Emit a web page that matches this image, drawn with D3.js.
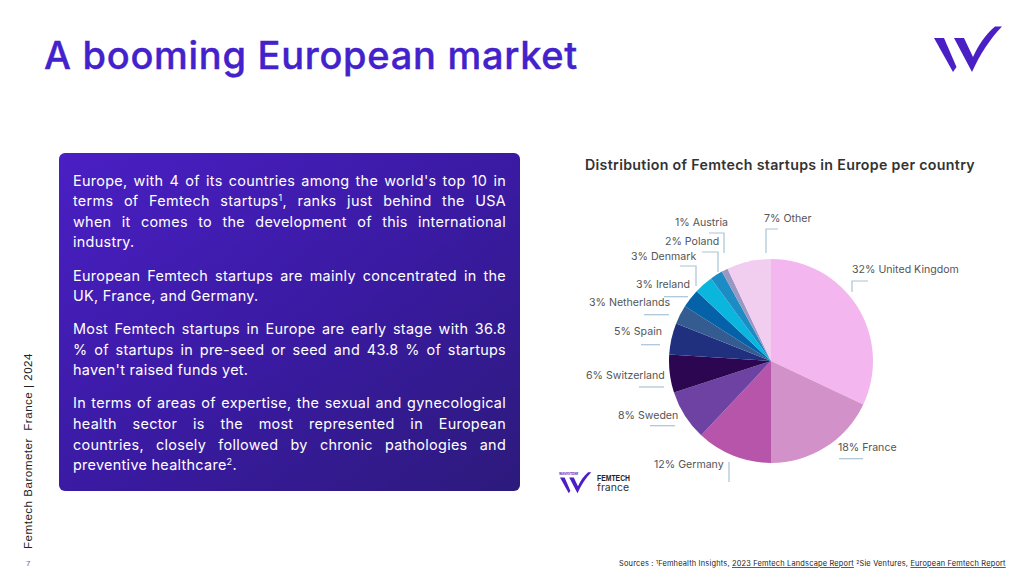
<!DOCTYPE html>
<html>
<head>
<meta charset="utf-8">
<script src="https://cdn.jsdelivr.net/npm/d3@7"></script>
<style>
    html, body { margin: 0; padding: 0; background: #fff; }
    svg { display: block; font-family: Inter, sans-serif; }
</style>
</head>
<body>
<svg id="chart" width="1024" height="576"></svg>
<script>
const countries = ['United Kingdom', 'France', 'Germany', 'Sweden', 'Switzerland', 'Spain', 'Netherlands', 'Ireland', 'Denmark', 'Poland', 'Austria', 'Other'];
const shares = [32, 18, 12, 8, 6, 5, 3, 3, 3, 2, 1, 7];
const sliceColors = ['#f3b6ee', '#d291c9', '#b755ab', '#6e42a3', '#2c0650', '#20307e', '#345c91', '#0561a8', '#0ab5de', '#1b8cc4', '#9a97c2', '#f1cdf0'];

// label x is the left edge, leader is the thin blue line next to each label
const labelLayout = [
    { x: 852, y: 269, leader: [[852, 292], [852, 281], [868, 281]] },
    { x: 838, y: 447, leader: [[839, 458.7], [863, 458.7]] },
    { x: 654, y: 464, leader: [[729, 462], [729, 482]] },
    { x: 618, y: 415, leader: [[650, 425.7], [675, 425.7]] },
    { x: 586, y: 375, leader: [[639, 387], [664, 387]] },
    { x: 614, y: 331, leader: [[641, 344.7], [660, 344.7]] },
    { x: 589, y: 302, leader: [[644, 314.7], [669, 314.7]] },
    { x: 636, y: 284, leader: [[664, 296.7], [688, 296.7]] },
    { x: 631, y: 256, leader: [[680, 266], [696, 266], [696, 286]] },
    { x: 665, y: 241, leader: [[702, 252], [718, 252], [718, 272]] },
    { x: 675, y: 222, leader: [[709, 233], [724, 233], [724, 253]] },
    { x: 764, y: 218, leader: [[766, 253], [766, 229], [778, 229]] }
];

const paragraphs = [
    [
        { text: "Europe, with 4 of its countries among the world's top 10 in", y: 181 },
        { text: 'terms of Femtech startups|1|, ranks just behind the USA', y: 201 },
        { text: 'when it comes to the development of this international', y: 222 },
        { text: 'industry.', y: 242, last: true }
    ],
    [
        { text: 'European Femtech startups are mainly concentrated in the', y: 276 },
        { text: 'UK, France, and Germany.', y: 296, last: true }
    ],
    [
        { text: 'Most Femtech startups in Europe are early stage with 36.8', y: 329 },
        { text: '% of startups in pre-seed or seed and 43.8 % of startups', y: 350 },
        { text: "haven't raised funds yet.", y: 370, last: true }
    ],
    [
        { text: 'In terms of areas of expertise, the sexual and gynecological', y: 403 },
        { text: 'health sector is the most represented in European', y: 424 },
        { text: 'countries, closely followed by chronic pathologies and', y: 445 },
        { text: 'preventive healthcare|2|.', y: 465, last: true }
    ]
];

const svg = d3.select('#chart');

// spreads the letters of a text until it is as wide as the reference
const fitWidth = (t, width, chars) => {
    const extra = (width - t.node().getComputedTextLength()) / chars;
    t.attr('letter-spacing', extra);
};

const defs = svg.append('defs');
const boxGradient = defs.append('linearGradient')
    .attr('id', 'box-gradient')
    .attr('x1', '0%').attr('y1', '0%')
    .attr('x2', '100%').attr('y2', '100%');
boxGradient.append('stop').attr('offset', '0%').attr('stop-color', '#4a1fc4');
boxGradient.append('stop').attr('offset', '55%').attr('stop-color', '#391aa0');
boxGradient.append('stop').attr('offset', '100%').attr('stop-color', '#2d1a7c');

// title
const title = svg.append('text')
    .attr('x', 44)
    .attr('y', 69)
    .attr('font-size', 38)
    .attr('font-weight', 500)
    .attr('stroke', '#4322cc')
    .attr('stroke-width', 0.4)
    .attr('fill', '#4322cc')
    .text('A booming European market');
fitWidth(title, 534, 25);

// logo, top right
const logoLeft = 'M0 12 L10 12 L22.5 41 L19 46 Z';
const logoRight = 'M20 12 L30 12 L39 31 C44 20 51 9 61 0.5 L68 0.5 C56 13 46 28 38 46 Z';
const drawLogo = (x, y, k) => {
    const logo = svg.append('g').attr('transform', `translate(${x},${y}) scale(${k})`).attr('fill', '#4a1fc4');
    logo.append('path').attr('d', logoLeft);
    logo.append('path').attr('d', logoRight);
};
drawLogo(934, 26, 1);

// text box
svg.append('rect')
    .attr('x', 59).attr('y', 153)
    .attr('width', 461).attr('height', 338)
    .attr('rx', 6)
    .attr('fill', 'url(#box-gradient)');

const boxLeft = 73;
const boxRight = 506;
const bodyFont = 14.4;

paragraphs.flat().forEach(line => {
    const t = svg.append('text')
        .attr('x', boxLeft)
        .attr('y', line.y + 5)
        .attr('font-size', bodyFont)
        .attr('letter-spacing', 0.3)
        .attr('fill', '#fff');
    line.text.split('|').forEach((part, i) => {
        const span = t.append('tspan').text(part);
        if (i === 1) {
            span.attr('font-size', 9).attr('dy', -5);
        } else if (i === 2) {
            span.attr('dy', 5);
        }
    });
    // justify the line by hand, the last line of a paragraph stays ragged
    if (!line.last) {
        const gaps = line.text.split(' ').length - 1;
        const extra = (boxRight - boxLeft - t.node().getComputedTextLength()) / gaps;
        t.attr('word-spacing', extra);
    }
});

// pie
const cx = 771;
const cy = 361;
const radius = 102;

const pie = d3.pie().sort(null)(shares);
const arc = d3.arc().innerRadius(0).outerRadius(radius);
const color = d3.scaleOrdinal().domain(countries).range(sliceColors);

svg.append('g')
    .attr('transform', `translate(${cx},${cy})`)
    .selectAll('path')
    .data(pie)
    .enter()
    .append('path')
    .attr('d', arc)
    .attr('fill', (d, i) => color(countries[i]));

const chartTitle = svg.append('text')
    .attr('x', 585)
    .attr('y', 170)
    .attr('font-size', 14.2)
    .attr('font-weight', 600)
    .attr('fill', '#333')
    .text('Distribution of Femtech startups in Europe per country');
fitWidth(chartTitle, 390, 54);

const leaderLine = d3.line();
svg.append('g')
    .selectAll('path')
    .data(labelLayout)
    .enter()
    .append('path')
    .attr('d', d => leaderLine(d.leader))
    .attr('fill', 'none')
    .attr('stroke', '#a9c3d6')
    .attr('stroke-width', 1.2);

svg.append('g')
    .selectAll('text')
    .data(labelLayout)
    .enter()
    .append('text')
    .attr('x', d => d.x)
    .attr('y', d => d.y + 4)
    .attr('font-size', 10.6)
    .attr('fill', '#555')
    .text((d, i) => `${shares[i]}% ${countries[i]}`);

// small logos under the pie
drawLogo(560, 472, 0.46);
svg.append('text').attr('x', 559).attr('y', 475).attr('font-size', 3).attr('font-weight', 700).attr('fill', '#4a1fc4').text('WAVESTONE');
svg.append('text').attr('x', 597).attr('y', 481).attr('font-family', '"Liberation Sans", sans-serif').attr('font-size', 9).attr('font-weight', 700).attr('fill', '#222')
    .attr('textLength', 33).attr('lengthAdjust', 'spacingAndGlyphs').text('FEMTECH');
svg.append('text').attr('x', 597).attr('y', 491).attr('font-size', 9.5).attr('fill', '#333')
    .attr('textLength', 32).attr('lengthAdjust', 'spacingAndGlyphs').text('france');

// side text and page number
const sideText = svg.append('text')
    .attr('transform', 'translate(32,549) rotate(-90)')
    .attr('font-family', '"Liberation Sans", sans-serif')
    .attr('font-size', 11.6)
    .attr('fill', '#222')
    .style('white-space', 'pre')
    .text('Femtech Barometer  France | 2024');
fitWidth(sideText, 196, 32);

svg.append('text')
    .attr('x', 26)
    .attr('y', 566)
    .attr('font-family', '"Liberation Sans", sans-serif')
    .attr('font-size', 8)
    .attr('fill', '#6a55b5')
    .text('7');

// sources
const sources = svg.append('text')
    .attr('x', 619)
    .attr('y', 566)
    .attr('font-size', 7.4)
    .attr('fill', '#222');
sources.append('tspan').text('Sources : ');
sources.append('tspan').attr('font-size', 5).attr('dy', -2).text('1');
sources.append('tspan').attr('dy', 2).text('Femhealth Insights, ');
sources.append('tspan').attr('text-decoration', 'underline').text('2023 Femtech Landscape Report');
sources.append('tspan').text(' ');
sources.append('tspan').attr('font-size', 5).attr('dy', -2).text('2');
sources.append('tspan').attr('dy', 2).text('Sie Ventures, ');
sources.append('tspan').attr('text-decoration', 'underline').text('European Femtech Report');
fitWidth(sources, 385, 90);
</script>
</body>
</html>
